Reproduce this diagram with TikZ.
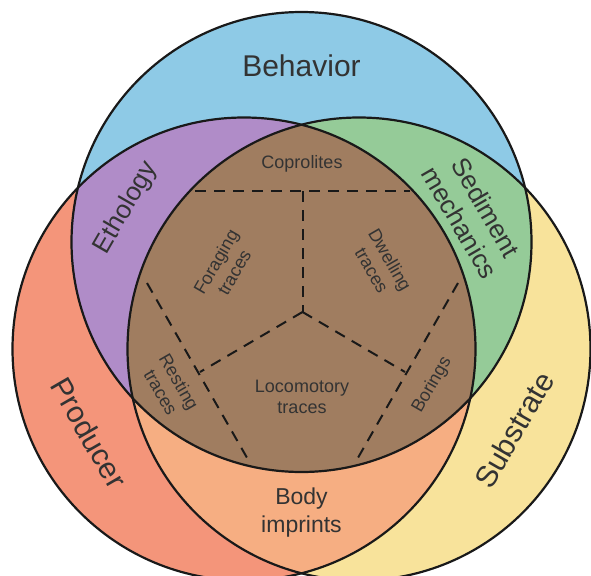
\documentclass[tikz,border=0pt]{standalone}
\usepackage{fontspec}
\setmainfont{Liberation Sans}
\definecolor{cblue}{HTML}{8ECAE6}
\definecolor{cpurple}{HTML}{B08CC8}
\definecolor{cgreen}{HTML}{95CB98}
\definecolor{cred}{HTML}{F4957A}
\definecolor{cyellow}{HTML}{F8E39B}
\definecolor{corange}{HTML}{F6AE82}
\definecolor{cbrown}{HTML}{A07D60}
\definecolor{txt}{HTML}{333333}
\tikzset{
  outline/.style={draw=black!90, line width=2.2pt},
  dashline/.style={draw=black!90, line width=2pt, dash pattern=on 11pt off 8pt},
  biglabel/.style={font=\fontsize{30}{34}\selectfont, text=txt, inner sep=0pt},
  midlabel/.style={font=\fontsize{26}{30}\selectfont, text=txt, inner sep=0pt, align=center},
  bodylabel/.style={font=\fontsize{23}{27.5}\selectfont, text=txt, inner sep=0pt, align=center},
  smalllabel/.style={font=\fontsize{18}{21}\selectfont, text=txt, inner sep=0pt, align=center}
}
\begin{document}
\begin{tikzpicture}[x=1pt,y=-1pt]
\useasboundingbox (0,0) rectangle (591,575);
\clip (0,0) rectangle (591,575);
\fill[white] (0,0) rectangle (591,575);
\coordinate (cB) at (301.5,242);
\coordinate (cP) at (244,349);
\coordinate (cS) at (359,349);
\def\rB{230pt}
\def\rP{231.5pt}
% base fills
\fill[cred] (cP) circle[radius=\rP];
\fill[cyellow] (cS) circle[radius=\rP];
\fill[cblue] (cB) circle[radius=\rB];
% pairwise intersections
\begin{scope}
  \clip (cP) circle[radius=\rP];
  \fill[cpurple] (cB) circle[radius=\rB];
\end{scope}
\begin{scope}
  \clip (cS) circle[radius=\rP];
  \fill[cgreen] (cB) circle[radius=\rB];
\end{scope}
\begin{scope}
  \clip (cP) circle[radius=\rP];
  \fill[corange] (cS) circle[radius=\rP];
\end{scope}
\begin{scope}
  \clip (cP) circle[radius=\rP];
  \clip (cS) circle[radius=\rP];
  \fill[cbrown] (cB) circle[radius=\rB];
\end{scope}
% outlines
\draw[outline] (cP) circle[radius=\rP];
\draw[outline] (cS) circle[radius=\rP];
\draw[outline] (cB) circle[radius=\rB];
% dashed partition
\coordinate (hl) at (195,191);
\coordinate (hr) at (410,191);
\coordinate (ht) at (302.5,191);
\coordinate (ctr) at (302.5,312);
\coordinate (jl) at (200,372);
\coordinate (jr) at (405,372);
\coordinate (ul) at (147,283);
\coordinate (ur) at (458,283);
\coordinate (bl) at (250,463);
\coordinate (br) at (355,463);
\draw[dashline] (hl) -- (hr);
\draw[dashline] (ht) -- (ctr);
\draw[dashline] (ctr) -- (jl);
\draw[dashline] (ctr) -- (jr);
\draw[dashline] (ul) -- (bl);
\draw[dashline] (ur) -- (br);
% labels
\node[biglabel] (behavior) at (301.5,66) {Behavior};
\node[biglabel, rotate=-60] (producer) at (89,433) {Producer};
\node[biglabel, rotate=60] (substrate) at (514,430) {Substrate};
\node[midlabel, rotate=60] (ethology) at (126,208) {Ethology};
\node[midlabel, rotate=-60] (sediment) at (473,215) {Sediment\\mechanics};
\node[smalllabel] (coprolites) at (302,164) {Coprolites};
\node[smalllabel, rotate=60] (foraging) at (225,267) {Foraging\\traces};
\node[smalllabel, rotate=-60] (dwelling) at (381,265) {Dwelling\\traces};
\node[smalllabel, rotate=-60] (resting) at (170,387) {Resting\\traces};
\node[smalllabel, rotate=60] (borings) at (432,385) {Borings};
\node[smalllabel] (locomotory) at (302,397) {Locomotory\\traces};
\node[bodylabel] (body) at (301.5,512.5) {Body\\imprints};
\end{tikzpicture}
\end{document}
